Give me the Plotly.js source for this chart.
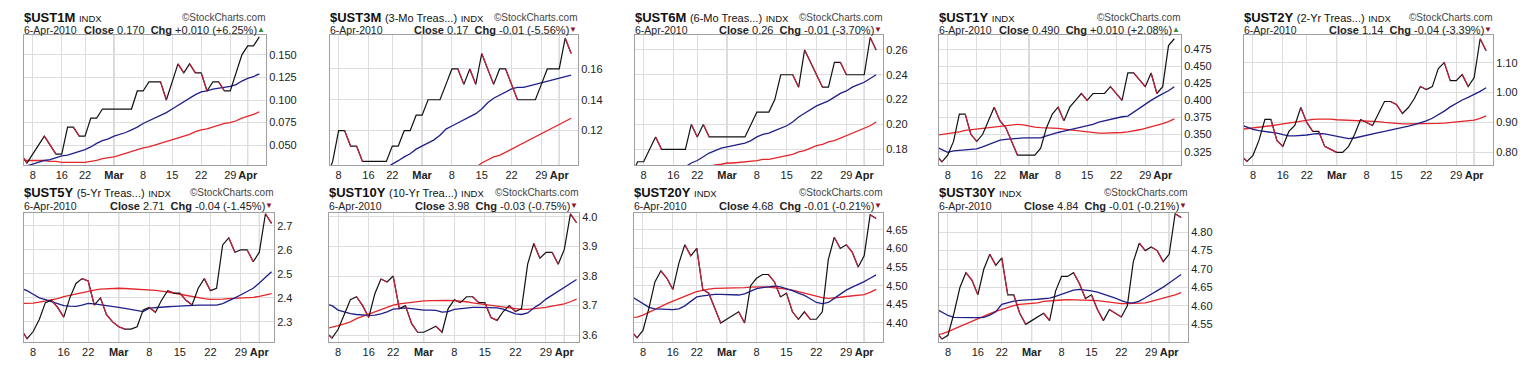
<!DOCTYPE html>
<html><head><meta charset="utf-8">
<script src="https://cdn.plot.ly/plotly-3.0.1.min.js"></script>
<style>html,body{margin:0;padding:0;background:#fff;}#chart{width:1528px;height:375px;}</style>
</head><body><div id="chart"></div>
<script>
// ---------------- DATA ----------------
const dates = ['2010-02-04','2010-02-05','2010-02-08','2010-02-09','2010-02-10','2010-02-11','2010-02-12',
'2010-02-16','2010-02-17','2010-02-18','2010-02-19','2010-02-22','2010-02-23','2010-02-24','2010-02-25','2010-02-26',
'2010-03-01','2010-03-02','2010-03-03','2010-03-04','2010-03-05','2010-03-08','2010-03-09','2010-03-10','2010-03-11','2010-03-12',
'2010-03-15','2010-03-16','2010-03-17','2010-03-18','2010-03-19','2010-03-22','2010-03-23','2010-03-24','2010-03-25','2010-03-26',
'2010-03-29','2010-03-30','2010-03-31','2010-04-01','2010-04-05','2010-04-06'];
const tickDates = ['2010-02-08','2010-02-16','2010-02-22','2010-03-01','2010-03-08','2010-03-15','2010-03-22','2010-03-29','2010-04-01'];
const tickText = ['8','16','22','<b>Mar</b>','8','15','22','29','<b>Apr</b>'];
const monthStarts = ['2010-03-01','2010-04-01'];

const symbols = ['$UST1M','$UST3M','$UST6M','$UST1Y','$UST2Y','$UST5Y','$UST10Y','$UST20Y','$UST30Y'];
const names = ['','(3-Mo Treas...)','(6-Mo Treas...)','','(2-Yr Treas...)','(5-Yr Treas...)','(10-Yr Trea...)','',''];
const asOf = '6-Apr-2010';
const closeText = ['0.170','0.17','0.26','0.490','1.14','2.71','3.98','4.68','4.84'];
const chgText = ['+0.010','-0.01','-0.01','+0.010','-0.04','-0.04','-0.03','-0.01','-0.01'];
const pctText = ['(+6.25%)','(-5.56%)','(-3.70%)','(+2.08%)','(-3.39%)','(-1.45%)','(-0.75%)','(-0.21%)','(-0.21%)'];

const ust1m = [0.04,0.03,0.04,0.05,0.06,0.05,0.04,0.04,0.07,0.07,0.06,0.06,0.08,0.08,0.09,0.09,0.09,0.09,0.09,0.09,0.11,0.11,0.12,0.12,0.12,0.10,0.12,0.14,0.13,0.14,0.13,0.13,0.11,0.12,0.12,0.11,0.11,0.13,0.15,0.16,0.16,0.17];
const ust1mMa20 = [0.026,0.027,0.029,0.031,0.033,0.034,0.036,0.038,0.039,0.041,0.043,0.045,0.048,0.052,0.055,0.057,0.060,0.062,0.064,0.067,0.070,0.074,0.077,0.080,0.083,0.086,0.090,0.094,0.098,0.102,0.106,0.109,0.110,0.112,0.113,0.114,0.115,0.117,0.121,0.124,0.126,0.129];
const ust1mMa50 = [0.034,0.033,0.033,0.033,0.033,0.032,0.032,0.031,0.031,0.031,0.031,0.031,0.032,0.033,0.035,0.036,0.037,0.039,0.041,0.043,0.045,0.047,0.048,0.050,0.052,0.054,0.056,0.058,0.060,0.062,0.065,0.067,0.068,0.070,0.072,0.074,0.075,0.077,0.080,0.082,0.084,0.087];

const ust3m = [0.09,0.10,0.12,0.12,0.11,0.11,0.10,0.10,0.10,0.10,0.10,0.11,0.11,0.12,0.12,0.13,0.13,0.14,0.14,0.14,0.15,0.16,0.16,0.15,0.16,0.15,0.17,0.16,0.15,0.16,0.16,0.15,0.14,0.14,0.14,0.14,0.15,0.16,0.16,0.16,0.18,0.17];
const ust3mMa20 = [null,null,null,null,null,null,null,null,null,null,0.096,0.098,0.1005,0.103,0.105,0.108,0.110,0.112,0.114,0.117,0.121,0.123,0.125,0.127,0.129,0.131,0.134,0.138,0.141,0.143,0.145,0.147,0.148,0.148,0.149,0.150,0.151,0.152,0.153,0.154,0.155,0.156];
const ust3mMa50 = [null,null,null,null,null,null,null,null,null,null,null,null,null,null,null,null,null,null,null,null,null,null,null,null,0.094,0.096,0.099,0.101,0.103,0.104,0.106,0.108,0.110,0.112,0.114,0.116,0.118,0.120,0.122,0.124,0.126,0.128];

const ust6m = [0.16,0.17,0.17,0.18,0.19,0.18,0.18,0.18,0.18,0.18,0.20,0.19,0.20,0.19,0.19,0.19,0.19,0.19,0.19,0.19,0.20,0.21,0.21,0.21,0.22,0.24,0.24,0.24,0.23,0.26,0.25,0.24,0.23,0.23,0.25,0.25,0.24,0.24,0.24,0.24,0.27,0.26];
const ust6mMa20 = [null,null,null,null,null,null,null,null,null,0.166,0.169,0.171,0.174,0.177,0.179,0.181,0.182,0.183,0.184,0.185,0.187,0.190,0.192,0.193,0.195,0.197,0.199,0.202,0.206,0.209,0.212,0.215,0.217,0.219,0.222,0.225,0.227,0.230,0.232,0.234,0.237,0.240];
const ust6mMa50 = [null,null,null,null,null,null,null,null,null,null,null,null,null,0.166,0.1675,0.168,0.169,0.169,0.1695,0.170,0.170,0.171,0.172,0.172,0.173,0.174,0.175,0.176,0.178,0.179,0.181,0.183,0.184,0.186,0.187,0.189,0.191,0.193,0.195,0.197,0.199,0.202];

const ust1y = [0.32,0.31,0.32,0.34,0.38,0.38,0.35,0.34,0.35,0.37,0.39,0.37,0.36,0.34,0.32,0.32,0.32,0.32,0.33,0.36,0.38,0.39,0.37,0.39,0.40,0.41,0.40,0.41,0.41,0.41,0.42,0.41,0.40,0.44,0.44,0.43,0.42,0.44,0.41,0.42,0.48,0.49];
const ust1yMa20 = [0.332,0.328,0.324,0.326,0.327,0.327,0.328,0.329,0.332,0.335,0.339,0.342,0.343,0.344,0.345,0.345,0.345,0.345,0.345,0.348,0.351,0.353,0.355,0.357,0.358,0.360,0.362,0.365,0.368,0.370,0.373,0.374,0.376,0.377,0.383,0.389,0.395,0.400,0.405,0.409,0.414,0.420];
const ust1yMa50 = [0.349,0.350,0.351,0.353,0.354,0.356,0.357,0.358,0.359,0.361,0.362,0.363,0.364,0.365,0.365,0.364,0.362,0.361,0.360,0.360,0.360,0.359,0.358,0.357,0.355,0.354,0.353,0.352,0.352,0.352,0.352,0.352,0.353,0.354,0.355,0.357,0.359,0.361,0.363,0.366,0.369,0.373];

const ust2y = [0.79,0.77,0.79,0.84,0.91,0.91,0.84,0.82,0.87,0.89,0.95,0.90,0.87,0.87,0.82,0.81,0.80,0.80,0.82,0.86,0.91,0.90,0.89,0.93,0.97,0.97,0.96,0.93,0.95,0.98,1.02,1.01,1.02,1.08,1.10,1.04,1.04,1.06,1.02,1.05,1.18,1.14];
const ust2yMa20 = [0.892,0.884,0.877,0.873,0.870,0.868,0.864,0.859,0.855,0.855,0.856,0.858,0.861,0.863,0.862,0.858,0.852,0.848,0.846,0.848,0.853,0.858,0.862,0.866,0.870,0.874,0.878,0.883,0.888,0.893,0.899,0.905,0.914,0.925,0.938,0.952,0.964,0.975,0.984,0.993,1.004,1.016];
const ust2yMa50 = [0.877,0.879,0.881,0.884,0.887,0.889,0.892,0.895,0.898,0.902,0.905,0.908,0.910,0.911,0.912,0.911,0.909,0.908,0.907,0.906,0.906,0.906,0.905,0.903,0.900,0.898,0.896,0.895,0.895,0.895,0.895,0.895,0.896,0.897,0.898,0.900,0.901,0.903,0.906,0.908,0.914,0.922];

const ust5y = [2.27,2.23,2.26,2.31,2.38,2.39,2.36,2.32,2.40,2.46,2.48,2.47,2.37,2.40,2.33,2.30,2.28,2.27,2.27,2.28,2.35,2.36,2.34,2.39,2.43,2.42,2.42,2.39,2.37,2.44,2.48,2.43,2.44,2.62,2.65,2.59,2.60,2.60,2.55,2.59,2.75,2.71];
const ust5yMa20 = [2.440,2.430,2.415,2.400,2.393,2.385,2.375,2.368,2.366,2.365,2.370,2.377,2.375,2.372,2.368,2.363,2.360,2.356,2.351,2.345,2.343,2.357,2.360,2.362,2.363,2.365,2.367,2.369,2.370,2.370,2.370,2.370,2.370,2.376,2.387,2.400,2.413,2.427,2.440,2.462,2.485,2.509];
const ust5yMa50 = [2.377,2.377,2.378,2.382,2.386,2.390,2.397,2.405,2.411,2.417,2.423,2.427,2.432,2.436,2.438,2.440,2.440,2.439,2.438,2.437,2.435,2.433,2.431,2.428,2.425,2.420,2.415,2.410,2.406,2.400,2.397,2.394,2.393,2.395,2.397,2.398,2.399,2.400,2.402,2.406,2.411,2.418];

const ust10y = [3.61,3.59,3.62,3.67,3.72,3.73,3.70,3.66,3.74,3.79,3.78,3.80,3.69,3.70,3.64,3.61,3.61,3.62,3.63,3.61,3.69,3.72,3.71,3.73,3.73,3.71,3.71,3.66,3.65,3.68,3.70,3.68,3.69,3.84,3.91,3.86,3.88,3.88,3.84,3.89,4.01,3.98];
const ust10yMa20 = [3.705,3.700,3.685,3.678,3.673,3.670,3.668,3.667,3.668,3.672,3.679,3.688,3.690,3.692,3.690,3.687,3.685,3.685,3.684,3.678,3.680,3.687,3.690,3.692,3.694,3.694,3.694,3.694,3.692,3.688,3.680,3.672,3.670,3.675,3.692,3.705,3.722,3.735,3.748,3.763,3.776,3.788];
const ust10yMa50 = [3.622,3.626,3.632,3.638,3.645,3.656,3.664,3.672,3.678,3.686,3.694,3.702,3.706,3.709,3.711,3.714,3.716,3.717,3.718,3.718,3.718,3.717,3.716,3.713,3.709,3.706,3.703,3.700,3.698,3.694,3.692,3.689,3.687,3.687,3.689,3.691,3.694,3.698,3.701,3.706,3.713,3.722];

const ust20y = [4.38,4.36,4.38,4.44,4.51,4.54,4.52,4.49,4.56,4.61,4.58,4.60,4.49,4.48,4.44,4.40,4.41,4.42,4.43,4.40,4.50,4.52,4.53,4.53,4.51,4.47,4.48,4.43,4.41,4.43,4.41,4.41,4.43,4.57,4.63,4.60,4.61,4.59,4.55,4.58,4.69,4.68];
const ust20yMa20 = [4.472,4.462,4.450,4.442,4.438,4.437,4.436,4.436,4.438,4.446,4.458,4.470,4.473,4.476,4.477,4.477,4.477,4.476,4.475,4.478,4.484,4.492,4.495,4.497,4.499,4.497,4.493,4.487,4.480,4.474,4.465,4.455,4.452,4.455,4.466,4.477,4.488,4.496,4.503,4.511,4.520,4.529];
const ust20yMa50 = [4.414,4.416,4.421,4.428,4.436,4.444,4.452,4.459,4.466,4.472,4.478,4.484,4.488,4.491,4.493,4.493,4.493,4.494,4.495,4.495,4.496,4.497,4.497,4.496,4.495,4.494,4.491,4.488,4.484,4.479,4.474,4.470,4.468,4.466,4.467,4.469,4.471,4.473,4.475,4.476,4.482,4.490];

const ust30y = [4.53,4.51,4.52,4.58,4.65,4.69,4.67,4.63,4.70,4.74,4.71,4.73,4.63,4.63,4.58,4.55,4.56,4.57,4.58,4.56,4.64,4.68,4.68,4.69,4.66,4.62,4.63,4.59,4.56,4.59,4.58,4.57,4.60,4.72,4.77,4.75,4.76,4.75,4.72,4.74,4.85,4.84];
const ust30yMa20 = [4.592,4.584,4.574,4.569,4.568,4.568,4.568,4.568,4.569,4.575,4.584,4.604,4.609,4.613,4.615,4.617,4.617,4.618,4.619,4.621,4.626,4.632,4.638,4.643,4.645,4.644,4.641,4.637,4.632,4.627,4.621,4.614,4.609,4.608,4.613,4.622,4.631,4.641,4.651,4.662,4.673,4.685];
const ust30yMa50 = [4.521,4.524,4.530,4.537,4.545,4.553,4.559,4.566,4.573,4.579,4.585,4.591,4.596,4.601,4.604,4.605,4.606,4.608,4.612,4.614,4.615,4.616,4.617,4.617,4.617,4.616,4.615,4.614,4.612,4.609,4.607,4.606,4.606,4.606,4.606,4.608,4.612,4.616,4.620,4.624,4.630,4.636];

const yTicks1m = [0.050,0.075,0.100,0.125,0.150];
const yTicks3m = [0.12,0.14,0.16];
const yTicks6m = [0.18,0.20,0.22,0.24,0.26];
const yTicks1y = [0.325,0.350,0.375,0.400,0.425,0.450,0.475];
const yTicks2y = [0.80,0.90,1.00,1.10];
const yTicks5y = [2.3,2.4,2.5,2.6,2.7];
const yTicks10y = [3.6,3.7,3.8,3.9,4.0];
const yTicks20y = [4.40,4.45,4.50,4.55,4.60,4.65];
const yTicks30y = [4.55,4.60,4.65,4.70,4.75,4.80];

// ---------------- LAYOUT / STYLE ----------------
const W = 1528, H = 375;
const FONT = 'Arial, "Liberation Sans", sans-serif';
const series = [
  {p: ust1m, a: ust1mMa20, b: ust1mMa50, t: yTicks1m, f: '.3f'},
  {p: ust3m, a: ust3mMa20, b: ust3mMa50, t: yTicks3m, f: '.2f'},
  {p: ust6m, a: ust6mMa20, b: ust6mMa50, t: yTicks6m, f: '.2f'},
  {p: ust1y, a: ust1yMa20, b: ust1yMa50, t: yTicks1y, f: '.3f'},
  {p: ust2y, a: ust2yMa20, b: ust2yMa50, t: yTicks2y, f: '.2f'},
  {p: ust5y, a: ust5yMa20, b: ust5yMa50, t: yTicks5y, f: '.1f'},
  {p: ust10y, a: ust10yMa20, b: ust10yMa50, t: yTicks10y, f: '.1f'},
  {p: ust20y, a: ust20yMa20, b: ust20yMa50, t: yTicks20y, f: '.2f'},
  {p: ust30y, a: ust30yMa20, b: ust30yMa50, t: yTicks30y, f: '.2f'}
];
// pixel boxes [left, right, top, bottom]
const boxes = [[24,266,35,165],[330,578,35,165],[635,883,35,165],[939,1181,35,165],[1244,1493,35,165],
               [24,274,213,342],[329,579,213,342],[634,883,213,342],[939,1188,213,342]];
const yRanges = [[0.028,0.172],[0.0977,0.182],[0.1674,0.272],[0.3055,0.4955],[0.7577,1.1925],
                 [2.2164,2.753],[3.577,4.013],[4.349,4.695],[4.502,4.852]];
const xRanges = [[0.5,42.15],[0.55,42.15],[0.55,42.15],[0.5,42.15],[0.5,42.15],
                 [0.5,41.4],[0.5,41.4],[0.5,42.15],[0.5,42.15]];

function downRuns(d, v) {
  const xs = [], ys = [];
  let open = false;
  for (let i = 1; i < v.length; i++) {
    if (v[i] !== null && v[i-1] !== null && v[i] < v[i-1] - 1e-9) {
      if (!open) {
        if (xs.length) { xs.push(d[i-1]); ys.push(null); }
        xs.push(d[i-1]); ys.push(v[i-1]); open = true;
      }
      xs.push(d[i]); ys.push(v[i]);
    } else open = false;
  }
  return {xs, ys};
}

const traces = [], annotations = [], shapes = [];
const layout = {
  width: W, height: H, margin: {l:0, r:0, t:0, b:0},
  paper_bgcolor: '#fff', plot_bgcolor: '#fff', showlegend: false,
  font: {family: FONT, size: 11, color: '#222'},
  hovermode: false
};

series.forEach((s, k) => {
  const n = k + 1;
  const xa = n === 1 ? 'x' : 'x' + n, ya = n === 1 ? 'y' : 'y' + n;
  const [l, r, t, b] = boxes[k];
  layout[n === 1 ? 'xaxis' : 'xaxis' + n] = {
    type: 'category', domain: [l / W, r / W], anchor: ya, range: xRanges[k],
    tickmode: 'array', tickvals: tickDates, ticktext: tickText, tickangle: 0,
    showgrid: true, gridcolor: '#dddddd', gridwidth: 1, ticks: '',
    showline: true, linecolor: '#a0a0a0', linewidth: 1, mirror: true, zeroline: false,
    tickfont: {family: FONT, size: 11, color: '#222'}, fixedrange: true
  };
  layout[n === 1 ? 'yaxis' : 'yaxis' + n] = {
    domain: [1 - b / H, 1 - t / H], anchor: xa, side: 'right', range: yRanges[k],
    tickmode: 'array', tickvals: s.t, tickformat: s.f,
    showgrid: true, gridcolor: '#dddddd', gridwidth: 1, ticks: '',
    showline: true, linecolor: '#a0a0a0', linewidth: 1, mirror: true, zeroline: false,
    tickfont: {family: FONT, size: 11, color: '#222'}, fixedrange: true
  };
  monthStarts.forEach(m => {
    const idx = dates.indexOf(m);
    shapes.push({type: 'line', xref: xa, yref: ya + ' domain', x0: idx, x1: idx, y0: 0, y1: 1,
      line: {color: '#a8a8a8', width: 1}, layer: 'below'});
  });
  traces.push({x: dates, y: s.b, xaxis: xa, yaxis: ya, mode: 'lines', line: {color: '#e3262b', width: 1.3}});
  traces.push({x: dates, y: s.a, xaxis: xa, yaxis: ya, mode: 'lines', line: {color: '#1f1f8a', width: 1.3}});
  traces.push({x: dates, y: s.p, xaxis: xa, yaxis: ya, mode: 'lines', line: {color: '#111', width: 1.2}});
  const dr = downRuns(dates, s.p);
  traces.push({x: dr.xs, y: dr.ys, xaxis: xa, yaxis: ya, mode: 'lines', connectgaps: false,
    line: {color: '#c8203f', width: 1.2}});

  const row2 = k >= 5;
  const titleY = row2 ? 192 : 17, subY = row2 ? 205.5 : 29.5;
  let title = '<b>' + symbols[k] + '</b>';
  if (names[k]) title += ' <span style="font-size:11px">' + names[k] + '</span>';
  title += ' <span style="font-size:9.5px">INDX</span>';
  annotations.push({text: title, xref: 'paper', yref: 'paper', x: l / W, y: 1 - titleY / H,
    xanchor: 'left', yanchor: 'middle', showarrow: false, xshift: -2,
    font: {family: FONT, size: 13, color: '#111'}});
  annotations.push({text: '\u00A9StockCharts.com', xref: 'paper', yref: 'paper', x: r / W, y: 1 - titleY / H,
    xanchor: 'right', yanchor: 'middle', showarrow: false, xshift: 2,
    font: {family: FONT, size: 10, color: '#444'}});
  annotations.push({text: asOf, xref: 'paper', yref: 'paper', x: l / W, y: 1 - subY / H,
    xanchor: 'left', yanchor: 'middle', showarrow: false, xshift: -2,
    font: {family: FONT, size: 10.5, color: '#222'}});
  annotations.push({text: '<b>Close</b> ' + closeText[k] + '\u00A0\u00A0<b>Chg</b> ' + chgText[k] + ' ' + pctText[k],
    xref: 'paper', yref: 'paper', x: r / W, y: 1 - subY / H,
    xanchor: 'right', yanchor: 'middle', showarrow: false, xshift: -7,
    font: {family: FONT, size: 11, color: '#222'}});
  const up = chgText[k].charAt(0) === '+';
  annotations.push({text: up ? '\u25B2' : '\u25BC', xref: 'paper', yref: 'paper', x: r / W, y: 1 - subY / H,
    xanchor: 'right', yanchor: 'middle', showarrow: false, xshift: 1,
    font: {family: FONT, size: 8, color: up ? '#3c8a3c' : '#8a1236'}});
});
layout.annotations = annotations;
layout.shapes = shapes;
Plotly.newPlot('chart', traces, layout, {staticPlot: true, displayModeBar: false});
</script>
</body></html>
